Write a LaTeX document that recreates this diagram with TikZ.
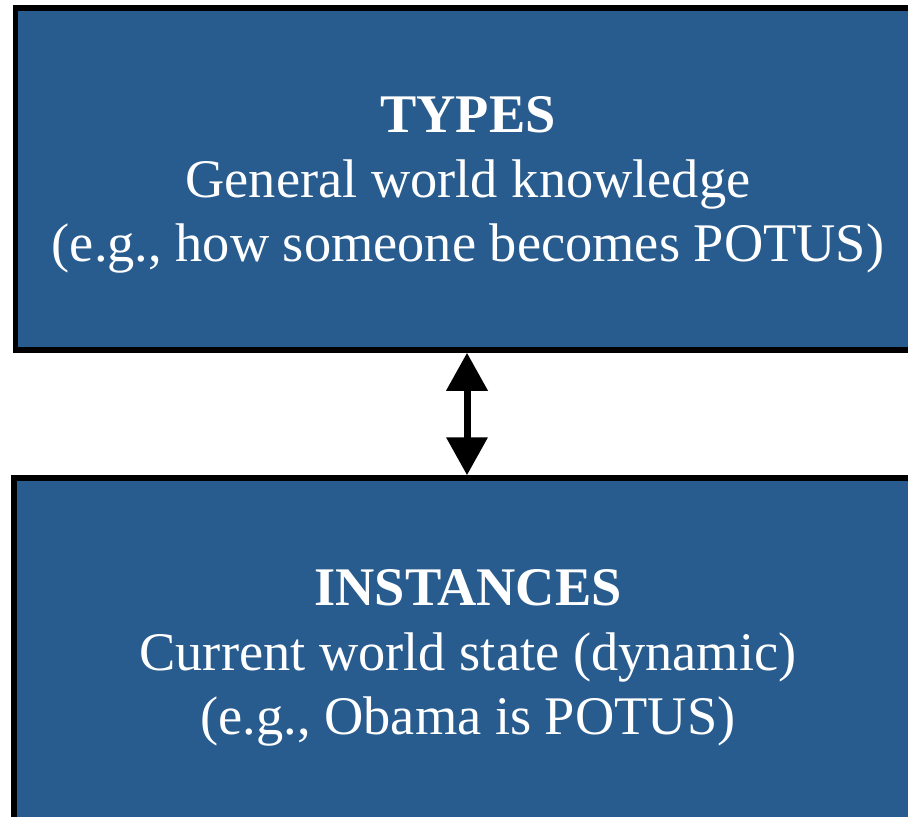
\documentclass[tikz,border=0pt]{standalone}
\usepackage{fontspec}
\setmainfont{Liberation Serif}
\usetikzlibrary{arrows.meta,positioning}
\definecolor{boxblue}{RGB}{40,92,142}
\tikzset{
	kbox/.style={draw=black,fill=boxblue,line width=2.75pt},
	ktext/.style={text=white,align=center,font=\fontsize{27.2}{32.25}\selectfont},
}

\begin{document}
\begin{tikzpicture}[x=0.5pt,y=-0.5pt,>={Triangle[length=19pt,width=20pt]}]
		
		% Frame (the boxes run off the right and bottom edges)
		\useasboundingbox (0,0) rectangle (908,817);
		\clip (0,0) rectangle (908,817);
		
		% Upper box: types
		\node[kbox,minimum width=452.5pt,minimum height=171pt] (types) at (468,179) {};
		\node[ktext,yshift=-3pt] (typestxt) at (types.center)
		{\textbf{TYPES}\\General world knowledge\\(e.g., how someone becomes POTUS)};
		
		% Lower box: instances
		\node[kbox,minimum width=454pt,minimum height=178pt] (inst) at (468,656) {};
		\node[ktext,yshift=-1pt] (insttxt) at (inst.center)
		{\textbf{INSTANCES}\\Current world state (dynamic)\\(e.g., Obama is POTUS)};
		
		% Two-way link between them
		\draw[<->,line width=3.5pt] (types.south -| 467,0) -- (inst.north -| 467,0);
		
	\end{tikzpicture}
\end{document}
